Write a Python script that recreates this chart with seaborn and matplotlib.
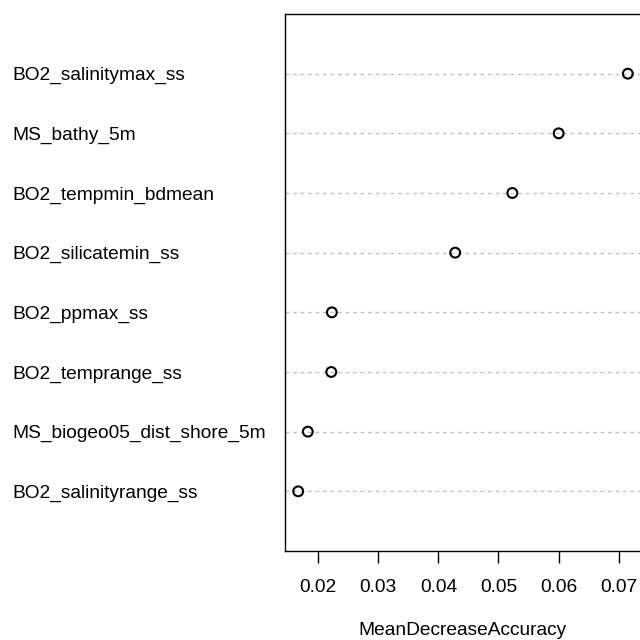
import numpy as np
import pandas as pd
import seaborn as sns
import matplotlib.pyplot as plt

variables = ['BO2_salinitymax_ss', 'MS_bathy_5m', 'BO2_tempmin_bdmean',
             'BO2_silicatemin_ss', 'BO2_ppmax_ss', 'BO2_temprange_ss',
             'MS_biogeo05_dist_shore_5m', 'BO2_salinityrange_ss']
mda = [0.0715, 0.0600, 0.0523, 0.0428, 0.0223, 0.0222, 0.0183, 0.0167]
xticks = [0.02, 0.03, 0.04, 0.05, 0.06, 0.07]

sns.set_theme(style='white')
plt.rcParams['font.family'] = ['Liberation Sans', 'DejaVu Sans']
plt.rcParams['text.color'] = 'black'
plt.rcParams['xtick.color'] = 'black'
plt.rcParams['ytick.color'] = 'black'
plt.rcParams['axes.labelcolor'] = 'black'

df = pd.DataFrame({'var': variables, 'mda': mda})
n = len(df)
df['pos'] = n - np.arange(n)

fig = plt.figure(figsize=(6.4, 6.4), dpi=100)
ax = fig.add_axes([285/640, 89/640, 356/640, 537/640])

# R-like xlim: range extended by 4%
lo, hi = min(mda), max(mda)
pad = (hi - lo) * 0.04
ax.set_xlim(lo - pad, hi + pad)
ax.set_ylim(0, n + 1)

ax.hlines(df['pos'], lo - pad, hi + pad, colors='#bebebe', linestyles=(0, (3, 3)), linewidth=0.9, zorder=1)
sns.scatterplot(data=df, x='mda', y='pos', ax=ax, marker='o', s=50,
                facecolor='none', edgecolor='black', linewidth=1.5, zorder=3)

fs = 13.8
ax.set_yticks(df['pos'])
ax.set_yticklabels(df['var'], fontsize=fs)
for t in ax.get_yticklabels():
    t.set_horizontalalignment('left')
ax.tick_params(axis='y', length=0, pad=196)

ax.set_xticks(xticks)
ax.set_xticklabels([f'{v:.2f}' for v in xticks], fontsize=fs)
ax.tick_params(axis='x', bottom=True, length=8.6, width=1, color='black', pad=11.8)
ax.set_xlabel('MeanDecreaseAccuracy', fontsize=fs, labelpad=18.5)
ax.set_ylabel('')

for s in ax.spines.values():
    s.set_color('black')
    s.set_linewidth(1.0)
ax.spines['right'].set_visible(False)

fig.savefig('out.png', dpi=100, facecolor='white')
